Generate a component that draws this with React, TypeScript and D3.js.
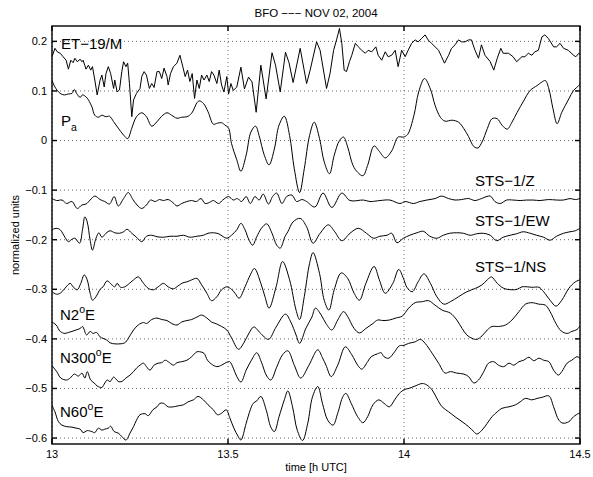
import React from "react";
import * as d3 from "d3";

type Pt = [number, number];

// Each record: [minutes after 13:00 UTC, normalized amplitude]
const et19m: Pt[] = [
  [0, 0.169], [0.5, 0.186], [0.9, 0.179], [1.4, 0.176], [1.9, 0.169], [2.4, 0.162], [2.8, 0.144],
  [3.2, 0.162], [3.6, 0.157], [3.9, 0.166], [4.3, 0.159], [4.8, 0.164], [5.1, 0.159], [5.3, 0.162],
  [5.8, 0.144], [6.2, 0.152], [6.6, 0.142], [6.9, 0.149], [7.3, 0.122], [7.7, 0.092], [8.2, 0.122],
  [8.5, 0.132], [8.9, 0.108], [9.2, 0.135], [9.6, 0.149], [10.0, 0.135], [10.5, 0.105], [10.7, 0.122],
  [11.1, 0.098], [11.5, 0.102], [11.9, 0.139], [12.2, 0.159], [12.6, 0.149], [12.9, 0.156], [13.2, 0.115],
  [13.6, 0.048], [13.9, 0.082], [14.4, 0.095], [15.0, 0.105], [15.3, 0.129], [15.7, 0.139], [16.1, 0.132],
  [16.6, 0.105], [17.0, 0.115], [17.4, 0.107], [17.9, 0.139], [18.3, 0.139], [18.7, 0.125], [19.1, 0.146],
  [19.6, 0.129], [19.8, 0.112], [20.2, 0.135], [20.7, 0.149], [21.3, 0.156], [21.8, 0.172], [22.3, 0.149],
  [22.7, 0.129], [23.1, 0.142], [23.5, 0.119], [23.9, 0.135], [24.3, 0.085], [24.7, 0.122], [25.1, 0.105],
  [25.5, 0.132], [25.9, 0.122], [26.4, 0.132], [26.8, 0.119], [27.2, 0.139], [27.6, 0.132], [28.1, 0.115],
  [28.5, 0.142], [28.9, 0.112], [29.3, 0.098], [29.8, 0.129], [30.1, 0.094], [30.5, 0.115], [30.9, 0.101],
  [31.5, 0.108], [32.2, 0.148], [32.8, 0.104], [33.5, 0.128], [34.1, 0.118], [34.8, 0.057], [35.6, 0.152],
  [36.5, 0.084], [37.5, 0.177], [38.1, 0.152], [38.9, 0.098], [39.8, 0.178], [40.4, 0.157], [41.1, 0.117],
  [42.3, 0.186], [43.4, 0.115], [44.0, 0.142], [45.1, 0.199], [45.7, 0.182], [46.8, 0.105], [47.4, 0.136],
  [48.0, 0.182], [48.5, 0.203], [49.0, 0.226], [49.4, 0.196], [49.8, 0.142], [50.2, 0.139], [50.7, 0.159],
  [51.1, 0.172], [51.7, 0.196], [52.2, 0.189], [52.8, 0.182], [53.4, 0.176], [53.9, 0.182], [54.5, 0.179],
  [55.2, 0.189], [55.6, 0.172], [56.2, 0.162], [56.8, 0.179], [57.3, 0.169], [57.9, 0.172], [58.5, 0.182],
  [59.0, 0.149], [59.6, 0.182], [60.2, 0.169], [60.7, 0.182], [61.3, 0.196], [61.9, 0.203], [62.4, 0.199],
  [63.0, 0.206], [63.6, 0.213], [64.1, 0.203], [64.7, 0.196], [65.3, 0.189], [65.9, 0.182], [66.4, 0.169],
  [66.9, 0.156], [67.6, 0.172], [68.1, 0.186], [68.7, 0.193], [69.3, 0.203], [69.8, 0.199], [70.4, 0.199],
  [71.0, 0.203], [71.5, 0.203], [72.1, 0.182], [72.7, 0.166], [73.2, 0.193], [73.8, 0.172], [74.7, 0.159],
  [75.3, 0.142], [75.9, 0.166], [76.5, 0.186], [76.9, 0.176], [77.8, 0.176], [78.6, 0.169], [79.2, 0.159],
  [80.1, 0.169], [80.6, 0.169], [81.2, 0.176], [81.8, 0.172], [82.3, 0.179], [82.9, 0.182], [83.5, 0.209],
  [84.0, 0.213], [84.6, 0.206], [85.5, 0.189], [86.0, 0.189], [86.6, 0.196], [87.2, 0.186], [88.0, 0.182],
  [88.9, 0.172], [89.3, 0.169], [89.8, 0.176], [90, 0.176],
];

const pressure: Pt[] = [
  [0, 0.122], [0.5, 0.108], [1.4, 0.095], [2.1, 0.092], [2.8, 0.094], [3.4, 0.095], [3.8, 0.103],
  [4.2, 0.095], [4.8, 0.087], [5.2, 0.092], [5.8, 0.088], [6.2, 0.082], [6.8, 0.068], [7.3, 0.051],
  [7.9, 0.047], [8.5, 0.051], [9.2, 0.048], [9.8, 0.049], [10.5, 0.038], [11.3, 0.025], [12.2, 0.011],
  [12.9, 0.004], [13.6, 0.025], [14.4, 0.048], [15.3, 0.056], [16.1, 0.048], [17.0, 0.029], [17.9, 0.038],
  [18.7, 0.049], [19.6, 0.056], [20.4, 0.051], [21.3, 0.045], [22.1, 0.047], [23.0, 0.048], [23.8, 0.055],
  [24.7, 0.076], [25.1, 0.080], [25.8, 0.075], [26.6, 0.058], [27.5, 0.033], [28.2, 0.035], [28.9, 0.036],
  [29.5, 0.031], [30.1, 0.025], [30.6, -0.006], [31.5, -0.039], [32.2, -0.062], [33.1, -0.029], [33.9, 0.017],
  [34.7, 0.029], [35.3, 0.010], [36.2, -0.030], [37.0, -0.049], [37.9, -0.017], [38.7, 0.031], [39.6, 0.049],
  [40.5, 0.010], [41.3, -0.057], [42.2, -0.105], [43.0, -0.057], [43.9, 0.010], [44.7, 0.037], [45.6, 0.004],
  [46.4, -0.043], [47.3, -0.067], [48.1, -0.030], [49.0, 0.0], [49.7, 0.007], [50.4, -0.013], [51.3, -0.050],
  [52.1, -0.064], [53.0, -0.071], [53.8, -0.050], [54.9, -0.011], [55.8, -0.022], [56.8, -0.035], [57.9, -0.021],
  [59.0, 0.007], [59.9, 0.007], [60.6, 0.012], [61.7, 0.051], [62.5, 0.098], [63.5, 0.125], [64.5, 0.104],
  [65.3, 0.071], [66.2, 0.047], [67.0, 0.039], [68.2, 0.041], [69.3, 0.037], [70.2, 0.024], [71.0, 0.008],
  [71.9, -0.012], [72.6, -0.015], [73.3, -0.003], [74.2, 0.024], [75.0, 0.044], [75.9, 0.044], [76.7, 0.031],
  [77.6, 0.023], [78.4, 0.037], [79.3, 0.057], [80.4, 0.080], [81.5, 0.101], [82.7, 0.111], [83.5, 0.118],
  [84.1, 0.121], [84.7, 0.104], [85.4, 0.064], [86.1, 0.034], [86.9, 0.057], [88.1, 0.084], [88.9, 0.101],
  [89.8, 0.111], [90, 0.115],
];

const stsZ: Pt[] = [
  [0, -0.117], [0.8, -0.121], [1.7, -0.120], [2.5, -0.127], [3.4, -0.123], [4.3, -0.137], [5.1, -0.130],
  [5.8, -0.128], [6.5, -0.120], [7.3, -0.112], [8.2, -0.119], [9.0, -0.123], [9.8, -0.128], [10.6, -0.113],
  [11.3, -0.132], [12.2, -0.117], [13.0, -0.105], [13.8, -0.119], [14.5, -0.130], [15.3, -0.137], [16.1, -0.130],
  [16.8, -0.120], [17.6, -0.123], [18.3, -0.119], [19.0, -0.121], [19.8, -0.119], [20.6, -0.125], [21.3, -0.132],
  [22.1, -0.127], [23.0, -0.123], [23.8, -0.121], [24.6, -0.123], [25.4, -0.117], [26.1, -0.127], [26.8, -0.125],
  [27.5, -0.121], [28.4, -0.127], [29.1, -0.120], [30.1, -0.113], [30.9, -0.120], [31.6, -0.117], [32.3, -0.123],
  [33.1, -0.113], [33.8, -0.127], [34.6, -0.113], [35.3, -0.120], [36.0, -0.108], [36.9, -0.128], [37.6, -0.113],
  [38.3, -0.106], [39.2, -0.127], [40.0, -0.113], [40.9, -0.110], [41.7, -0.123], [42.6, -0.119], [43.4, -0.123],
  [44.8, -0.134], [46.2, -0.106], [47.7, -0.135], [49.4, -0.106], [50.8, -0.121], [53.1, -0.120], [54.2, -0.123],
  [55.9, -0.121], [57.6, -0.120], [59.3, -0.127], [60.2, -0.123], [61.6, -0.127], [62.7, -0.123], [63.9, -0.120],
  [65.3, -0.117], [66.4, -0.112], [67.6, -0.117], [68.7, -0.120], [69.8, -0.119], [71.0, -0.117], [72.1, -0.121],
  [73.2, -0.117], [74.7, -0.112], [75.5, -0.123], [76.4, -0.127], [77.5, -0.120], [78.6, -0.120], [79.8, -0.121],
  [80.9, -0.120], [82.0, -0.120], [83.2, -0.121], [84.6, -0.119], [86.0, -0.120], [87.2, -0.120], [88.3, -0.117],
  [89.2, -0.119], [90, -0.117],
];

const stsEW: Pt[] = [
  [0, -0.180], [0.7, -0.177], [1.4, -0.180], [2.2, -0.195], [2.8, -0.204], [3.4, -0.199], [3.9, -0.197],
  [4.7, -0.207], [5.2, -0.180], [5.6, -0.154], [6.0, -0.164], [6.5, -0.201], [6.9, -0.221], [7.5, -0.197],
  [8.0, -0.186], [8.5, -0.195], [9.2, -0.187], [9.9, -0.182], [10.7, -0.186], [11.5, -0.187], [12.2, -0.184],
  [12.8, -0.179], [13.6, -0.187], [14.4, -0.195], [15.3, -0.204], [16.1, -0.193], [17.0, -0.191], [17.9, -0.194],
  [19.0, -0.195], [20.1, -0.193], [21.3, -0.193], [22.4, -0.191], [23.5, -0.195], [24.7, -0.193], [25.8, -0.191],
  [26.6, -0.187], [27.5, -0.186], [28.4, -0.188], [29.2, -0.194], [29.8, -0.197], [30.6, -0.191], [31.5, -0.180],
  [32.2, -0.167], [32.9, -0.180], [33.6, -0.201], [34.2, -0.211], [34.9, -0.194], [35.7, -0.177], [36.6, -0.168],
  [37.5, -0.187], [38.3, -0.211], [38.9, -0.217], [39.7, -0.194], [40.2, -0.184], [41.1, -0.164], [42.3, -0.157],
  [43.4, -0.174], [44.5, -0.207], [45.7, -0.187], [47.1, -0.170], [48.2, -0.184], [49.4, -0.202], [50.8, -0.187],
  [52.2, -0.177], [53.6, -0.187], [54.8, -0.197], [55.9, -0.193], [57.1, -0.191], [57.9, -0.187], [58.8, -0.206],
  [59.9, -0.197], [61.0, -0.191], [62.2, -0.186], [63.3, -0.183], [64.4, -0.193], [65.6, -0.197], [66.7, -0.191],
  [67.8, -0.187], [69.0, -0.186], [70.1, -0.187], [71.3, -0.191], [72.4, -0.188], [73.5, -0.187], [74.7, -0.191],
  [75.8, -0.202], [76.9, -0.195], [78.1, -0.191], [79.2, -0.188], [80.3, -0.184], [81.5, -0.187], [82.6, -0.191],
  [83.8, -0.195], [84.9, -0.201], [86.0, -0.193], [87.2, -0.187], [88.3, -0.184], [89.2, -0.182], [90, -0.177],
];

const stsNS: Pt[] = [
  [0, -0.305], [0.8, -0.310], [1.5, -0.307], [2.2, -0.298], [3.1, -0.288], [3.6, -0.295], [4.3, -0.301],
  [4.9, -0.288], [5.5, -0.271], [6.0, -0.281], [6.5, -0.308], [6.9, -0.322], [7.5, -0.315], [8.2, -0.300],
  [8.7, -0.295], [9.4, -0.283], [10.2, -0.291], [10.7, -0.295], [11.1, -0.288], [11.7, -0.296], [12.4, -0.295],
  [13.2, -0.288], [13.9, -0.281], [14.7, -0.275], [15.6, -0.288], [16.4, -0.298], [17.3, -0.301], [18.1, -0.295],
  [19.0, -0.288], [19.8, -0.295], [20.7, -0.299], [21.5, -0.293], [22.3, -0.287], [23.0, -0.285], [23.8, -0.281],
  [24.7, -0.278], [25.5, -0.291], [26.4, -0.308], [27.2, -0.323], [28.1, -0.315], [28.9, -0.301], [29.8, -0.295],
  [30.6, -0.300], [31.2, -0.308], [31.9, -0.318], [32.9, -0.295], [33.8, -0.271], [34.5, -0.258], [35.6, -0.288],
  [36.3, -0.315], [37.0, -0.338], [38.2, -0.295], [39.3, -0.244], [40.5, -0.281], [41.6, -0.342], [42.2, -0.361],
  [43.0, -0.315], [43.9, -0.248], [44.5, -0.226], [45.6, -0.268], [46.4, -0.322], [47.2, -0.342], [48.1, -0.301],
  [49.3, -0.267], [50.4, -0.278], [51.5, -0.308], [52.4, -0.322], [53.5, -0.288], [54.9, -0.254], [55.8, -0.281],
  [56.8, -0.308], [58.1, -0.288], [59.1, -0.260], [59.9, -0.278], [60.5, -0.296], [61.4, -0.305], [62.4, -0.285],
  [63.4, -0.269], [64.5, -0.288], [65.6, -0.315], [66.8, -0.330], [67.9, -0.325], [69.3, -0.315], [70.7, -0.305],
  [72.2, -0.298], [73.3, -0.291], [74.2, -0.281], [74.9, -0.275], [75.9, -0.288], [77.0, -0.298], [78.4, -0.301],
  [79.3, -0.300], [80.1, -0.295], [81.0, -0.295], [81.8, -0.296], [83.0, -0.296], [83.8, -0.305], [84.9, -0.322],
  [85.9, -0.334], [86.9, -0.322], [88.1, -0.298], [89.2, -0.285], [90, -0.281],
];

const n2e: Pt[] = [
  [0, -0.366], [0.7, -0.372], [1.4, -0.385], [2.2, -0.389], [2.8, -0.387], [3.4, -0.385], [4.1, -0.382],
  [4.8, -0.379], [5.2, -0.375], [5.9, -0.392], [6.5, -0.385], [7.0, -0.389], [7.6, -0.387], [8.2, -0.396],
  [8.7, -0.399], [9.3, -0.402], [9.9, -0.408], [10.7, -0.410], [11.6, -0.410], [12.4, -0.408], [13.0, -0.399],
  [13.9, -0.382], [14.7, -0.372], [15.6, -0.367], [16.1, -0.369], [17.0, -0.361], [17.9, -0.358], [18.7, -0.361],
  [19.6, -0.363], [20.4, -0.369], [21.3, -0.372], [22.1, -0.366], [23.0, -0.363], [23.8, -0.361], [24.7, -0.356],
  [25.5, -0.352], [26.4, -0.358], [27.2, -0.366], [28.1, -0.370], [28.9, -0.375], [29.8, -0.382], [30.6, -0.398],
  [31.8, -0.421], [32.7, -0.408], [33.6, -0.388], [34.4, -0.376], [35.5, -0.388], [36.9, -0.401], [38.2, -0.376],
  [39.8, -0.350], [40.7, -0.366], [41.6, -0.392], [42.2, -0.409], [43.3, -0.378], [44.3, -0.356], [44.9, -0.338],
  [45.9, -0.352], [46.7, -0.369], [47.7, -0.382], [48.7, -0.362], [49.7, -0.345], [50.4, -0.355], [51.5, -0.379],
  [52.4, -0.388], [53.5, -0.379], [54.7, -0.369], [55.5, -0.362], [56.4, -0.363], [57.5, -0.362], [58.6, -0.358],
  [59.7, -0.354], [60.8, -0.338], [61.9, -0.327], [63.1, -0.325], [64.2, -0.323], [65.3, -0.332], [66.5, -0.342],
  [67.9, -0.348], [69.0, -0.362], [69.9, -0.379], [70.7, -0.392], [71.6, -0.399], [72.4, -0.401], [73.3, -0.394],
  [74.2, -0.382], [75.0, -0.375], [76.1, -0.375], [77.3, -0.372], [78.4, -0.362], [79.6, -0.345], [80.7, -0.330],
  [81.8, -0.327], [83.0, -0.330], [84.1, -0.332], [84.9, -0.345], [85.9, -0.369], [86.8, -0.384], [87.8, -0.389],
  [88.6, -0.385], [89.5, -0.381], [90, -0.374],
];

const n300e: Pt[] = [
  [0, -0.454], [0.8, -0.466], [1.5, -0.479], [2.5, -0.483], [3.1, -0.479], [3.8, -0.471], [4.5, -0.475],
  [5.1, -0.469], [5.6, -0.479], [6.0, -0.466], [6.6, -0.483], [7.2, -0.489], [7.7, -0.495], [8.5, -0.498],
  [9.0, -0.489], [9.4, -0.483], [9.9, -0.486], [10.5, -0.477], [10.9, -0.481], [11.3, -0.486], [11.9, -0.486],
  [12.6, -0.479], [13.3, -0.473], [13.9, -0.466], [14.4, -0.459], [15.0, -0.453], [15.6, -0.449], [16.1, -0.456],
  [16.7, -0.463], [17.4, -0.453], [18.1, -0.449], [18.7, -0.448], [19.3, -0.443], [19.8, -0.446], [20.7, -0.453],
  [21.3, -0.448], [22.1, -0.446], [23.0, -0.443], [23.8, -0.436], [24.7, -0.426], [25.2, -0.426], [25.9, -0.429],
  [26.5, -0.443], [27.2, -0.451], [28.1, -0.456], [28.9, -0.453], [29.8, -0.447], [30.3, -0.446], [30.9, -0.459],
  [31.5, -0.476], [32.2, -0.487], [33.1, -0.463], [34.0, -0.443], [34.9, -0.428], [35.7, -0.447], [36.6, -0.475],
  [37.3, -0.483], [38.3, -0.457], [39.3, -0.432], [40.2, -0.424], [41.3, -0.453], [42.4, -0.479], [43.8, -0.453],
  [45.3, -0.422], [46.1, -0.438], [46.7, -0.453], [47.6, -0.476], [48.7, -0.453], [50.0, -0.416], [51.1, -0.432],
  [52.1, -0.453], [52.8, -0.461], [53.8, -0.446], [54.4, -0.436], [55.5, -0.430], [56.1, -0.428], [56.6, -0.436],
  [57.4, -0.439], [58.4, -0.426], [59.2, -0.414], [60.0, -0.413], [60.8, -0.409], [61.9, -0.406], [62.8, -0.401],
  [63.6, -0.409], [64.8, -0.429], [65.9, -0.449], [67.0, -0.469], [67.9, -0.466], [69.0, -0.469], [70.2, -0.471],
  [71.0, -0.476], [71.9, -0.489], [72.7, -0.483], [73.6, -0.466], [74.4, -0.449], [75.3, -0.446], [76.1, -0.453],
  [77.0, -0.456], [77.9, -0.449], [78.7, -0.453], [79.6, -0.446], [80.4, -0.443], [81.3, -0.437], [82.1, -0.444],
  [83.0, -0.439], [83.8, -0.443], [84.7, -0.446], [85.5, -0.463], [86.3, -0.473], [86.9, -0.466], [87.8, -0.449],
  [88.6, -0.443], [89.5, -0.436], [90, -0.439],
];

const n60e: Pt[] = [
  [0, -0.534], [0.5, -0.547], [1.1, -0.567], [1.7, -0.574], [2.5, -0.577], [3.4, -0.578], [4.1, -0.580],
  [4.8, -0.582], [5.3, -0.589], [6.0, -0.585], [6.8, -0.587], [7.3, -0.589], [7.9, -0.580], [8.5, -0.584],
  [9.0, -0.582], [9.6, -0.580], [10.0, -0.576], [10.6, -0.587], [11.3, -0.590], [11.9, -0.597], [12.6, -0.604],
  [13.3, -0.590], [13.9, -0.577], [14.4, -0.564], [15.0, -0.553], [15.9, -0.551], [16.4, -0.555], [17.2, -0.543],
  [17.9, -0.537], [18.4, -0.530], [19.0, -0.530], [19.8, -0.537], [20.7, -0.537], [21.5, -0.535], [22.4, -0.533],
  [23.2, -0.527], [24.1, -0.523], [24.9, -0.516], [25.8, -0.523], [26.6, -0.533], [27.5, -0.543], [28.2, -0.553],
  [28.9, -0.550], [29.7, -0.543], [30.3, -0.559], [31.0, -0.580], [31.7, -0.596], [32.2, -0.604], [33.1, -0.570],
  [33.8, -0.543], [34.3, -0.530], [34.9, -0.525], [35.6, -0.516], [36.5, -0.543], [37.3, -0.578], [37.9, -0.587],
  [38.7, -0.557], [39.6, -0.523], [40.2, -0.505], [41.0, -0.537], [41.8, -0.584], [42.7, -0.605], [43.6, -0.570],
  [44.4, -0.517], [45.3, -0.496], [46.1, -0.530], [47.0, -0.564], [47.9, -0.574], [48.7, -0.550], [49.6, -0.516],
  [50.1, -0.510], [51.0, -0.530], [52.1, -0.557], [53.0, -0.569], [53.8, -0.557], [54.7, -0.533], [55.7, -0.523],
  [56.6, -0.530], [57.5, -0.537], [58.4, -0.523], [59.2, -0.510], [60.1, -0.502], [60.8, -0.500], [61.9, -0.495],
  [63.1, -0.490], [63.9, -0.493], [64.8, -0.503], [65.6, -0.520], [66.5, -0.537], [67.6, -0.547], [68.7, -0.557],
  [69.9, -0.567], [71.0, -0.577], [71.9, -0.587], [72.4, -0.592], [73.3, -0.584], [74.2, -0.570], [75.0, -0.557],
  [75.9, -0.547], [76.7, -0.540], [77.9, -0.537], [79.0, -0.533], [79.8, -0.527], [80.7, -0.520], [81.8, -0.523],
  [82.7, -0.520], [83.5, -0.518], [84.7, -0.515], [85.5, -0.537], [86.4, -0.564], [87.1, -0.570], [88.1, -0.567],
  [88.9, -0.557], [89.8, -0.550], [90, -0.549],
];

const yTicks = [0.2, 0.1, 0, -0.1, -0.2, -0.3, -0.4, -0.5, -0.6];
const xTicks = [13, 13.5, 14, 14.5];
const titleText = "BFO −−− NOV 02, 2004";
const xLabelText = "time [h UTC]";
const yLabelText = "normalized units";

const FONT = "'Liberation Sans', Arial, Helvetica, sans-serif";

export default function App() {
  const width = 593;
  const height = 477;
  const left = 52;
  const right = 580;
  const top = 26;
  const bottom = 444;

  const x = d3.scaleLinear().domain([13, 14.5]).range([left, right]);
  const y = d3.scaleLinear().domain([-0.612, 0.231]).range([bottom, top]);
  const hour = (m: number) => 13 + m / 60;

  const jagged = d3
    .line<Pt>()
    .x((d) => x(hour(d[0])))
    .y((d) => y(d[1]));
  const smooth = d3
    .line<Pt>()
    .x((d) => x(hour(d[0])))
    .y((d) => y(d[1]))
    .curve(d3.curveCatmullRom.alpha(0.5));

  const paths = [
    jagged(et19m),
    smooth(pressure),
    smooth(stsZ),
    smooth(stsEW),
    smooth(stsNS),
    smooth(n2e),
    smooth(n300e),
    smooth(n60e),
  ];

  const fmtY = (v: number) =>
    v === 0 ? "0" : (v < 0 ? "\u2212" : "") + Math.abs(v).toFixed(1);
  const fmtX = (v: number) => String(v);
  const tick = 5;

  return (
    <svg
      width={width}
      height={height}
      style={{ position: "absolute", left: 0, top: 0, display: "block" }}
      fontFamily={FONT}
    >
      <rect x={0} y={0} width={width} height={height} fill="#fff" />
      <defs>
        <clipPath id="plotArea">
          <rect x={left} y={top} width={right - left} height={bottom - top} />
        </clipPath>
      </defs>

      {/* dotted grid */}
      <g stroke="#444" strokeWidth={0.8} strokeDasharray="1 3">
        {yTicks.map((v) => (
          <line key={"gy" + v} x1={left} x2={right} y1={y(v)} y2={y(v)} />
        ))}
        {xTicks.map((v) => (
          <line key={"gx" + v} x1={x(v)} x2={x(v)} y1={top} y2={bottom} />
        ))}
      </g>

      {/* traces */}
      <g clipPath="url(#plotArea)" fill="none" stroke="#000" strokeWidth={1} strokeLinejoin="round">
        {paths.map((d, i) => (
          <path key={i} d={d || ""} />
        ))}
      </g>

      {/* trace labels */}
      <g fontSize={15} fill="#000">
        <text x={61} y={49}>ET−19/M</text>
        <text x={61} y={126}>
          P<tspan fontSize={10.5} dy={5}>a</tspan>
        </text>
        <text x={475} y={186}>STS−1/Z</text>
        <text x={475} y={226}>STS−1/EW</text>
        <text x={475} y={271.5}>STS−1/NS</text>
        <text x={60} y={320}>
          N2<tspan fontSize={10.5} dy={-7}>o</tspan>
          <tspan dy={7}>E</tspan>
        </text>
        <text x={60} y={363}>
          N300<tspan fontSize={10.5} dy={-7}>o</tspan>
          <tspan dy={7}>E</tspan>
        </text>
        <text x={60} y={417}>
          N60<tspan fontSize={10.5} dy={-7}>o</tspan>
          <tspan dy={7}>E</tspan>
        </text>
      </g>

      {/* axes box and ticks */}
      <g stroke="#000" strokeWidth={1.4} fill="none">
        <rect x={left} y={top} width={right - left} height={bottom - top} />
        {yTicks.map((v) => (
          <g key={"ty" + v}>
            <line x1={left} x2={left + tick} y1={y(v)} y2={y(v)} />
            <line x1={right} x2={right - tick} y1={y(v)} y2={y(v)} />
          </g>
        ))}
        {xTicks.map((v) => (
          <g key={"tx" + v}>
            <line x1={x(v)} x2={x(v)} y1={bottom} y2={bottom - tick} />
            <line x1={x(v)} x2={x(v)} y1={top} y2={top + tick} />
          </g>
        ))}
      </g>

      {/* tick labels */}
      <g fontSize={11} fill="#000">
        {yTicks.map((v) => (
          <text key={"ly" + v} x={left - 5} y={y(v)} dy="0.35em" textAnchor="end">
            {fmtY(v)}
          </text>
        ))}
        {xTicks.map((v) => (
          <text key={"lx" + v} x={x(v)} y={bottom + 14} textAnchor="middle">
            {fmtX(v)}
          </text>
        ))}
      </g>

      <text x={(left + right) / 2} y={16.5} fontSize={11.5} textAnchor="middle">
        {titleText}
      </text>
      <text x={(left + right) / 2} y={471} fontSize={11} textAnchor="middle">
        {xLabelText}
      </text>
      <text
        transform={`translate(19, ${(top + bottom) / 2}) rotate(-90)`}
        fontSize={11}
        textAnchor="middle"
      >
        {yLabelText}
      </text>
    </svg>
  );
}
